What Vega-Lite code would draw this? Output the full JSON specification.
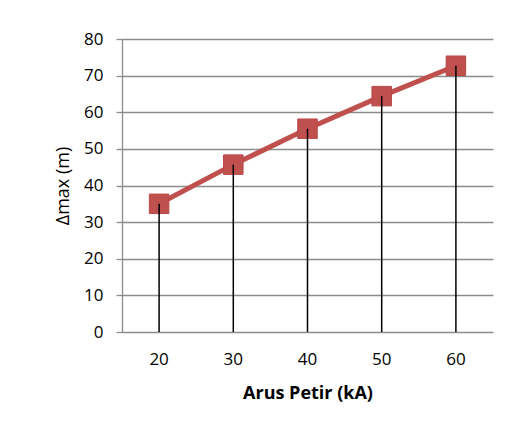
{
  "$schema": "https://vega.github.io/schema/vega-lite/v6.json",
  "autosize": {"type": "none"},
  "width": 371,
  "height": 293,
  "padding": {"left": 122, "top": 39, "right": 23, "bottom": 103},
  "background": "white",
  "config": {
    "view": {"stroke": null},
    "font": "Open Sans"
  },
  "data": {
    "values": [
      {"arus": 20, "dmax": 35.0},
      {"arus": 30, "dmax": 45.7},
      {"arus": 40, "dmax": 55.5},
      {"arus": 50, "dmax": 64.4},
      {"arus": 60, "dmax": 72.7}
    ]
  },
  "encoding": {
    "x": {
      "field": "arus",
      "type": "ordinal",
      "scale": {"type": "band", "paddingInner": 0, "paddingOuter": 0},
      "axis": {
        "title": "Arus Petir (kA)",
        "titleFont": "Open Sans",
        "titleFontSize": 18,
        "titleFontWeight": "bold",
        "titleColor": "#000000",
        "titlePadding": 17,
        "labelAngle": 0,
        "labelFont": "Open Sans",
        "labelFontSize": 17,
        "labelColor": "#000000",
        "labelPadding": 19,
        "ticks": false,
        "domain": false,
        "grid": false
      }
    },
    "y": {
      "field": "dmax",
      "type": "quantitative",
      "scale": {"domain": [0, 80], "nice": false, "zero": true},
      "axis": {
        "title": "Δmax (m)",
        "titleFont": "Open Sans",
        "titleFontSize": 18,
        "titleFontWeight": "normal",
        "titleColor": "#000000",
        "titlePadding": 11,
        "values": [0, 10, 20, 30, 40, 50, 60, 70, 80],
        "labelFont": "Open Sans",
        "labelFontSize": 17,
        "labelColor": "#000000",
        "labelPadding": 13,
        "tickSize": 6,
        "tickColor": "#8c8c8c",
        "tickWidth": 1.3,
        "domainColor": "#8c8c8c",
        "domainWidth": 1.3,
        "grid": true,
        "gridColor": "#8c8c8c",
        "gridWidth": 1.3,
        "gridOpacity": 1
      }
    }
  },
  "layer": [
    {
      "mark": {"type": "line", "color": "#C0504D", "strokeWidth": 5}
    },
    {
      "mark": {"type": "square", "size": 380, "filled": true, "color": "#C0504D", "opacity": 1, "stroke": "#B9474A", "strokeWidth": 1}
    },
    {
      "mark": {"type": "rule", "color": "#000000", "strokeWidth": 1.5},
      "encoding": {"y2": {"datum": 0}}
    }
  ]
}
